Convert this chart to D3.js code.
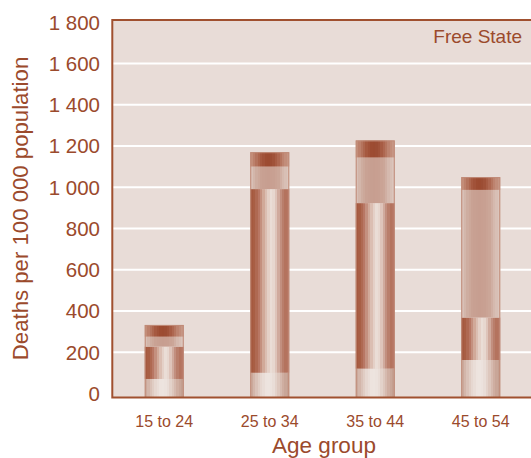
<!DOCTYPE html>
<html>
<head>
<meta charset="utf-8">
<script src="https://cdn.jsdelivr.net/npm/d3@7"></script>
<style>
  html, body { margin: 0; padding: 0; background: #ffffff; }
  svg { display: block; }
  text { font-family: "Liberation Sans", Arial, sans-serif; fill: #9b4a2c; }
</style>
</head>
<body>
<svg id="chart" width="531" height="458"></svg>
<script>
// Age groups along the x axis
const ageGroups = ["15 to 24", "25 to 34", "35 to 44", "45 to 54"];
// Stacked components, deaths per 100 000 population (bottom to top)
const part1 = [70, 100, 120, 162];
const part2 = [157, 891, 803, 206];
const part3 = [48, 109, 221, 619];
const part4 = [57, 70, 83, 62];
// Y axis ticks
const yTicks = [0, 200, 400, 600, 800, 1000, 1200, 1400, 1600, 1800];
const regionLabel = "Free State";
const yTitle = "Deaths per 100 000 population";
const xTitle = "Age group";

const W = 531, H = 458;
const plot = { left: 112.3, top: 20, right: 531, bottom: 397.5 };

const svg = d3.select("#chart");

const x = d3.scaleBand()
  .domain(ageGroups)
  .range([111.5, 533.5])
  .paddingInner(0.63)
  .paddingOuter(0.315);

const y = d3.scaleLinear().domain([0, 1800]).range([393.4, 22.3]);

// Cylinder-like shading for each stack layer, built as stepped vertical bands
const shades = [
  ["#c7a294", "#d9c0b5", "#e6d8d1", "#eee5e0", "#ebe1dc", "#ddc8be", "#cdab9e", "#c29b8c"],
  ["#a3573c", "#a95f45", "#b87865", "#cfa595", "#e2cbc1", "#ece2dc", "#dcc1b6", "#c29080", "#b3725d", "#b77865"],
  ["#dbc5bc", "#cfaea1", "#c9a294", "#c79e90", "#c89f91", "#cba597", "#d6bbb0", "#ddc8bf"],
  ["#c6937f", "#b67660", "#a5583f", "#9b4a30", "#9d4e35", "#ad664f", "#bf8672", "#c89a89"]
];
const defs = svg.append("defs");
const nBands = 16;
shades.forEach((cols, i) => {
  const interp = d3.piecewise(d3.interpolateRgb, cols);
  const g = defs.append("linearGradient")
    .attr("id", "shade" + i)
    .attr("x1", 0).attr("x2", 1).attr("y1", 0).attr("y2", 0);
  for (let b = 0; b < nBands; b++) {
    const c = interp((b + 0.5) / nBands);
    g.append("stop").attr("offset", b / nBands).attr("stop-color", c);
    g.append("stop").attr("offset", (b + 1) / nBands).attr("stop-color", c);
  }
});

// Plot background
svg.append("rect")
  .attr("x", plot.left).attr("y", plot.top)
  .attr("width", plot.right - plot.left).attr("height", plot.bottom - plot.top)
  .attr("fill", "#e8dcd7");

// Gridlines
svg.append("g")
  .selectAll("line")
  .data(yTicks.filter(d => d > 0 && d < 1800))
  .join("line")
  .attr("x1", plot.left).attr("x2", plot.right)
  .attr("y1", d => y(d)).attr("y2", d => y(d))
  .attr("stroke", "#ffffff").attr("stroke-width", 2);

// Stacked bars
const rows = ageGroups.map((g, i) => ({ group: g, p1: part1[i], p2: part2[i], p3: part3[i], p4: part4[i] }));
const stack = d3.stack().keys(["p1", "p2", "p3", "p4"]);
const layers = stack(rows);

const bars = svg.append("g");
layers.forEach((layer, li) => {
  bars.append("g")
    .selectAll("rect")
    .data(layer)
    .join("rect")
    .attr("x", d => x(d.data.group))
    .attr("width", x.bandwidth())
    .attr("y", d => y(d[1]))
    .attr("height", d => (d[0] === 0 ? plot.bottom : y(d[0])) - y(d[1]))
    .attr("fill", `url(#shade${li})`);
});
// Bar outlines
bars.append("g")
  .selectAll("rect")
  .data(layers[layers.length - 1])
  .join("rect")
  .attr("x", d => x(d.data.group) + 0.5)
  .attr("width", x.bandwidth() - 1)
  .attr("y", d => y(d[1]) + 0.5)
  .attr("height", d => plot.bottom - y(d[1]) - 0.5)
  .attr("fill", "none")
  .attr("stroke", "#c08b78").attr("stroke-width", 1);

// Frame: left, top, bottom
const frame = svg.append("g").attr("stroke", "#a0502f").attr("stroke-width", 2).attr("fill", "none");
frame.append("path")
  .attr("d", `M${plot.right},${plot.top}H${plot.left}V${plot.bottom}H${plot.right}`);

// Y tick labels
const fmt = d => d3.format(",")(d).replace(/,/g, " ");
svg.append("g")
  .selectAll("text")
  .data(yTicks)
  .join("text")
  .attr("x", 100)
  .attr("y", d => y(d))
  .attr("dy", "0.36em")
  .attr("text-anchor", "end")
  .style("font-size", "20.5px")
  .text(fmt);

// X tick labels
svg.append("g")
  .selectAll("text")
  .data(ageGroups)
  .join("text")
  .attr("x", d => x(d) + x.bandwidth() / 2)
  .attr("y", 427)
  .attr("text-anchor", "middle")
  .style("font-size", "16px")
  .text(d => d);

// Axis titles
svg.append("text")
  .attr("x", 324).attr("y", 453)
  .attr("text-anchor", "middle")
  .style("font-size", "22.5px")
  .text(xTitle);

svg.append("text")
  .attr("transform", "translate(28,208.5) rotate(-90)")
  .attr("text-anchor", "middle")
  .style("font-size", "22.2px")
  .text(yTitle);

// Region label
svg.append("text")
  .attr("x", 522).attr("y", 43)
  .attr("text-anchor", "end")
  .style("font-size", "19px")
  .text(regionLabel);
</script>
</body>
</html>
